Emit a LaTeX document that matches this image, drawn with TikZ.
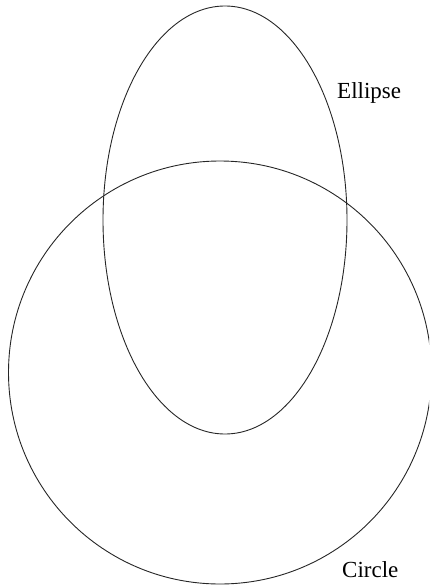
\documentclass[tikz,border=0pt]{standalone}
\usepackage{fontspec}
\setmainfont{Liberation Serif}
\usetikzlibrary{shapes.geometric}
\begin{document}
\begin{tikzpicture}[x=1pt,y=-1pt,
  outline/.style={draw=black!85,line width=0.9pt},
  lbl/.style={font=\fontsize{23}{26}\selectfont,inner sep=0pt,anchor=base west}]
\useasboundingbox (0,0) rectangle (429,586);
\begin{scope}
\clip (0,0) rectangle (429,586);
\node[outline,ellipse,minimum width=244pt,minimum height=428pt,inner sep=0pt] (ell) at (225,220) {};
\node[outline,circle,minimum size=423pt,inner sep=0pt] (circ) at (220,372.5) {};
\end{scope}
\node[lbl] (ellabel) at (337,98) {Ellipse};
\node[lbl] (circlabel) at (342,577) {Circle};
\end{tikzpicture}
\end{document}
